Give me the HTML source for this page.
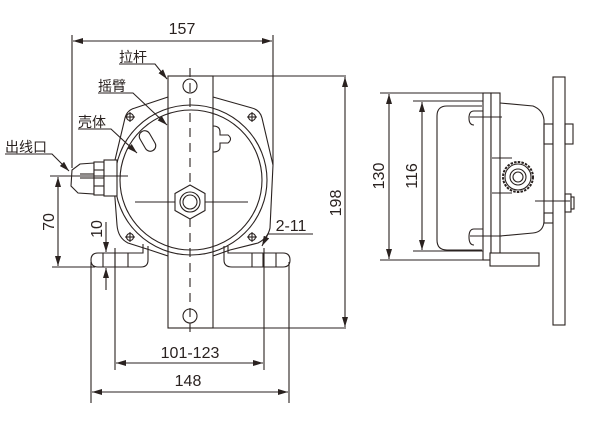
<!DOCTYPE html>
<html><head><meta charset="utf-8"><style>
html,body{margin:0;padding:0;background:#fff;width:600px;height:425px;overflow:hidden}
svg{display:block}
text{font-family:"Liberation Sans","Noto Sans CJK SC",sans-serif;fill:#2a2220}
</style></head><body>
<svg width="600" height="425" viewBox="0 0 600 425" xmlns="http://www.w3.org/2000/svg">
<defs>
<marker id="a" viewBox="0 0 10 6" refX="10" refY="3" markerWidth="10" markerHeight="6" orient="auto-start-reverse" markerUnits="userSpaceOnUse"><path d="M0,0 L10,3 L0,6 Z" fill="#2a2220"/></marker>
</defs>
<g stroke="#2a2220" stroke-width="1.1" fill="none">
<line x1="72" y1="35" x2="72" y2="168"/>
<line x1="273" y1="35" x2="273" y2="165"/>
<line x1="73" y1="41" x2="272" y2="41" marker-start="url(#a)" marker-end="url(#a)"/>
<path d="M168,97 L135,108 Q127,110 125,118 L115,160 L114,178 L114,185 L117,225 Q118,238 128,243 L150,250 L168,256"/>
<path d="M213,97 L252,108 Q260,110 262,118 L273,165 L270,228 Q268,238 258,243 L230,250 L213,256"/>
<rect x="168" y="76" width="45" height="252" fill="#fff"/>
<ellipse cx="191" cy="180" rx="76" ry="75"/>
<ellipse cx="191" cy="180" rx="71" ry="70"/>
<line x1="213" y1="76" x2="346" y2="76"/>
<line x1="213" y1="328" x2="346" y2="328"/>
<circle cx="190" cy="86" r="7"/>
<circle cx="190" cy="316" r="7"/>
<line x1="190" y1="68" x2="190" y2="334" stroke-dasharray="9,6"/>
<line x1="135" y1="202" x2="248" y2="202"/>
<polygon points="190,185 205,193.5 205,210.5 190,219 175,210.5 175,193.5" fill="#fff"/>
<circle cx="190" cy="202" r="10" fill="#fff"/>
<circle cx="190" cy="202" r="7"/>
<rect x="142" y="130" width="11" height="22" rx="5.5" transform="rotate(-30 147.5 141)"/>
<path d="M213,126 Q220,126 220,132 L220,135 L228,135 Q233,139 228,143 L220,143 L220,147 Q220,152 213,152"/>
<g>
<circle cx="130" cy="117" r="3.5"/><line x1="125" y1="117" x2="135" y2="117"/><line x1="130" y1="112" x2="130" y2="122"/>
<circle cx="252" cy="117" r="3.5"/><line x1="247" y1="117" x2="257" y2="117"/><line x1="252" y1="112" x2="252" y2="122"/>
<circle cx="130" cy="237" r="3.5"/><line x1="125" y1="237" x2="135" y2="237"/><line x1="130" y1="232" x2="130" y2="242"/>
<circle cx="252" cy="237" r="3.5"/><line x1="247" y1="237" x2="257" y2="237"/><line x1="252" y1="232" x2="252" y2="242"/>
</g>
<path d="M148,246 L148,260 Q148,267 141,267 L98,267 Q91,267 91,260 Q91,253 98,253 L143,253 L143,244"/>
<line x1="103" y1="253" x2="103" y2="267"/><line x1="115" y1="253" x2="115" y2="267"/><line x1="128" y1="253" x2="128" y2="267"/>
<path d="M228,246 L228,253 L283,253 Q290,253 290,260 Q290,267 283,267 L232,267 Q224,267 224,260 L224,246"/>
<line x1="252" y1="253" x2="252" y2="267"/><line x1="263" y1="253" x2="263" y2="267"/><line x1="276" y1="253" x2="276" y2="267"/>
<path d="M94,163 L80,164 L72,170 L71,186 L78,193 L94,194 Z" fill="#fff"/>
<rect x="94" y="162" width="10" height="33" fill="#fff"/>
<line x1="94" y1="170" x2="104" y2="170"/><line x1="94" y1="178" x2="104" y2="178"/><line x1="94" y1="186" x2="104" y2="186"/>
<rect x="104" y="160" width="13" height="36" fill="#fff"/>
<line x1="80" y1="174" x2="94" y2="174"/><line x1="80" y1="178" x2="94" y2="178"/>
<line x1="50" y1="176" x2="128" y2="176"/>
<line x1="52" y1="267" x2="95" y2="267"/>
<line x1="58" y1="177" x2="58" y2="266" marker-start="url(#a)" marker-end="url(#a)"/>
<line x1="106" y1="222" x2="106" y2="252" marker-end="url(#a)"/>
<line x1="106" y1="290" x2="106" y2="268" marker-end="url(#a)"/>
<line x1="115" y1="248" x2="115" y2="370"/>
<line x1="264" y1="248" x2="264" y2="370"/>
<line x1="116" y1="363" x2="263" y2="363" marker-start="url(#a)" marker-end="url(#a)"/>
<line x1="91" y1="262" x2="91" y2="403"/>
<line x1="289" y1="262" x2="289" y2="403"/>
<line x1="92" y1="392" x2="288" y2="392" marker-start="url(#a)" marker-end="url(#a)"/>
<line x1="345" y1="77" x2="345" y2="327" marker-start="url(#a)" marker-end="url(#a)"/>
<polyline points="119,64 155,64 167,79" marker-end="url(#a)" fill="none"/>
<polyline points="98,93 133,93 167,125" marker-end="url(#a)" fill="none"/>
<polyline points="78,129 111,129 137,153" marker-end="url(#a)" fill="none"/>
<polyline points="5,154 52,154 69,171" marker-end="url(#a)" fill="none"/>
<polyline points="313,234 268,234 262,246" marker-end="url(#a)" fill="none"/>

<line x1="380" y1="93" x2="500" y2="93"/>
<line x1="380" y1="260" x2="490" y2="260"/>
<line x1="413" y1="101" x2="483" y2="101"/>
<line x1="413" y1="251" x2="483" y2="251"/>
<line x1="389" y1="94" x2="389" y2="259" marker-start="url(#a)" marker-end="url(#a)"/>
<line x1="422" y1="102" x2="422" y2="250" marker-start="url(#a)" marker-end="url(#a)"/>
<path d="M482,106 L447,106 Q437,106 437,116 L437,240 Q437,250 447,250 L482,250"/>
<rect x="483" y="93" width="8" height="167" fill="#fff"/>
<rect x="491" y="93" width="9" height="167" fill="#fff"/>
<path d="M474,125 Q469,125 469,118 Q469,111 474,111 L483,111"/><line x1="470" y1="117" x2="502" y2="117"/>
<path d="M474,245 Q469,245 469,237 Q469,229 474,229 L483,229"/><line x1="470" y1="236" x2="502" y2="236"/>
<path d="M500,103 L533,106 Q543,110 544,120 L544,222 Q543,232 533,233 L500,236"/>
<line x1="492" y1="158" x2="512" y2="158"/><line x1="492" y1="193" x2="512" y2="193"/>
<rect x="544" y="124" width="9" height="20"/>
<rect x="544" y="213" width="9" height="10"/>
<rect x="553" y="77" width="12" height="248" fill="#fff"/>
<rect x="565" y="124" width="8" height="20"/>
<rect x="565" y="194" width="6" height="18"/><rect x="571" y="197" width="3" height="12"/>
<line x1="535" y1="201" x2="570" y2="201"/>
<rect x="490" y="253" width="49" height="13" fill="#fff"/>
<circle cx="518" cy="177" r="15" fill="#fff" stroke-width="2" stroke-dasharray="2.5,1.2"/>
<circle cx="518" cy="177" r="13" fill="#fff"/>
<circle cx="518" cy="177" r="8"/>
<circle cx="518" cy="177" r="5"/>
</g>
<g font-size="16">
<text x="182" y="34" text-anchor="middle">157</text>
<text x="190" y="358" text-anchor="middle">101-123</text>
<text x="188" y="386" text-anchor="middle">148</text>
<text x="291" y="231" text-anchor="middle">2-11</text>
<text transform="translate(341,203) rotate(-90)" text-anchor="middle">198</text>
<text transform="translate(54,222) rotate(-90)" text-anchor="middle">70</text>
<text transform="translate(102,229) rotate(-90)" text-anchor="middle">10</text>
<text transform="translate(384,176) rotate(-90)" text-anchor="middle">130</text>
<text transform="translate(417,176) rotate(-90)" text-anchor="middle">116</text>
</g>
<g font-size="14">
<text x="119" y="62">拉杆</text>
<text x="98" y="91">摇臂</text>
<text x="78" y="127">壳体</text>
<text x="5" y="152">出线口</text>
</g>
</svg>
</body></html>
